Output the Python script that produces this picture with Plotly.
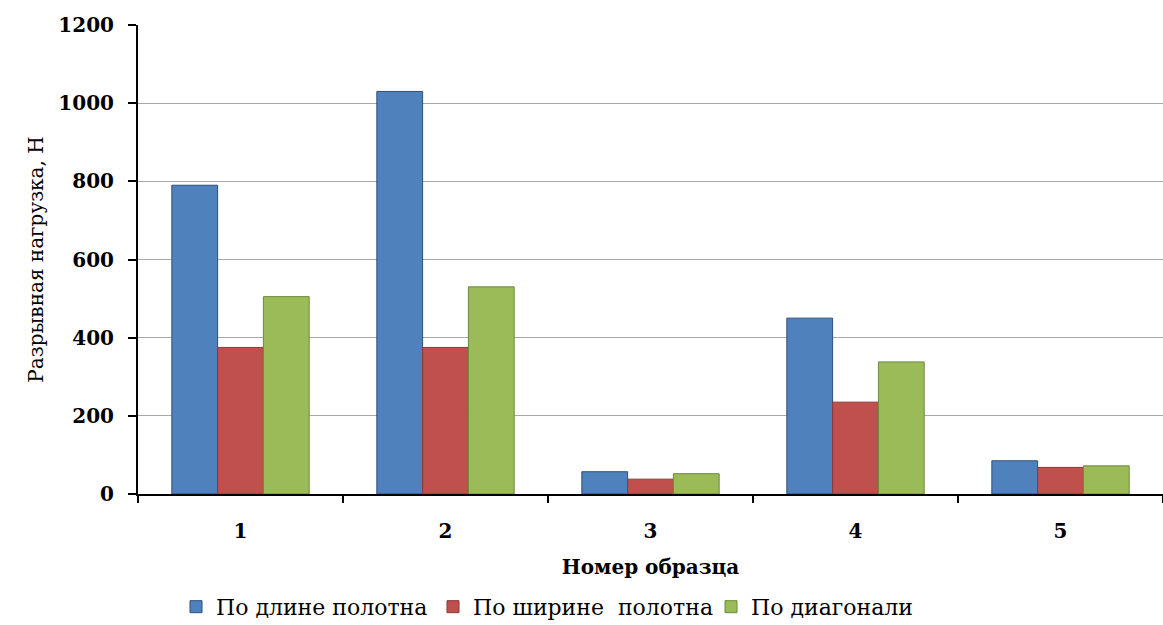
import plotly.graph_objects as go

# Sample numbers and breaking loads (N) in three cutting directions
samples = ["1", "2", "3", "4", "5"]
along_length = [790, 1030, 57, 450, 85]
along_width = [375, 375, 38, 235, 68]
diagonal = [505, 530, 52, 338, 72]

series_names = ["По длине полотна", "По ширине  полотна", "По диагонали"]
fill_colors = ["#4F81BD", "#C0504D", "#9BBB59"]
edge_colors = ["#2F4F7A", "#8C3836", "#6B8A3A"]

SERIF = "DejaVu Serif"

# each series gets its own legend box so the entries can be spaced freely
legend_ids = ["legend", "legend2", "legend3"]
legend_x = [176, 433, 711]  # left edge of each legend box, px

fig = go.Figure()
for name, vals, fc, ec, lg in zip(series_names, [along_length, along_width, diagonal],
                                  fill_colors, edge_colors, legend_ids):
    fig.add_trace(go.Bar(
        x=samples, y=vals, name=name, legend=lg,
        marker=dict(color=fc, line=dict(color=ec, width=1)),
    ))

legend_style = dict(
    orientation="h",
    xref="container", yref="container",
    y=0.029, xanchor="left", yanchor="middle",
    font=dict(family=SERIF, size=22, color="black"),
    itemwidth=30, bgcolor="rgba(0,0,0,0)",
)

fig.update_layout(
    width=1163, height=625,
    margin=dict(l=138, r=0, t=25, b=131),
    plot_bgcolor="white", paper_bgcolor="white",
    barmode="group", bargap=0.33, bargroupgap=0,
    font=dict(family=SERIF, color="black"),
    showlegend=True,
    legend=dict(legend_style, x=legend_x[0] / 1163),
    legend2=dict(legend_style, x=legend_x[1] / 1163),
    legend3=dict(legend_style, x=legend_x[2] / 1163),
)

fig.update_yaxes(
    range=[0, 1200], dtick=200, tick0=0,
    showgrid=True, gridcolor="#A8A8A8", gridwidth=1,
    showline=True, linecolor="black", linewidth=2,
    ticks="outside", ticklen=8, tickwidth=2, tickcolor="black",
    tickfont=dict(family=SERIF, size=20, color="black", weight="bold"),
    ticklabelstandoff=10,
    zeroline=False,
    title=dict(text="Разрывная нагрузка, Н",
               font=dict(family=SERIF, size=20, color="black"),
               standoff=9),
)

fig.update_xaxes(
    type="category",
    showline=True, linecolor="black", linewidth=2,
    ticks="outside", tickson="boundaries", ticklen=7, tickwidth=2, tickcolor="black",
    tickfont=dict(family=SERIF, size=20, color="black", weight="bold"),
    ticklabelstandoff=18,
    title=dict(text="Номер образца",
               font=dict(family=SERIF, size=20, color="black", weight="bold"),
               standoff=18),
)

fig.write_html("out.html")
